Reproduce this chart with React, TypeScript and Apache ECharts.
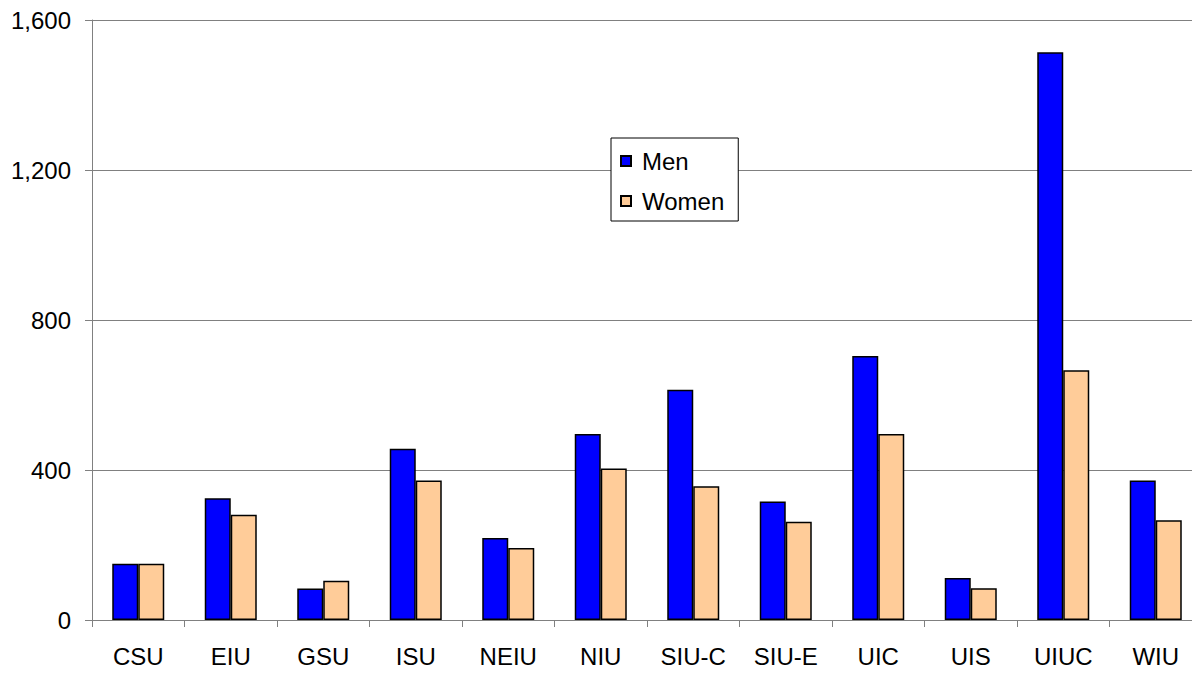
import React, { useEffect, useRef } from "react";
import * as echarts from "echarts";

const categories = ["CSU", "EIU", "GSU", "ISU", "NEIU", "NIU", "SIU-C", "SIU-E", "UIC", "UIS", "UIUC", "WIU"];
const menValues = [150, 325, 84, 457, 219, 496, 614, 316, 704, 112, 1514, 372];
const womenValues = [150, 281, 105, 372, 192, 404, 357, 262, 496, 85, 666, 266];
const yTicks = { min: 0, max: 1600, interval: 400 };

export default function App() {
  const ref = useRef<HTMLDivElement>(null);
  useEffect(() => {
    if (!ref.current) return;
    const chart = echarts.init(ref.current, null, { renderer: "svg" });
    const font = "Arial, 'Liberation Sans', sans-serif";
    chart.setOption({
      animation: false,
      backgroundColor: "#ffffff",
      grid: { left: 92, top: 20, width: 1110, height: 600, containLabel: false },
      legend: {
        orient: "vertical",
        left: 611,
        top: 138,
        padding: [11, 14, 8, 9],
        itemGap: 16,
        itemWidth: 10,
        itemHeight: 10,
        borderColor: "#000000",
        borderWidth: 1,
        backgroundColor: "#ffffff",
        icon: "rect",
        textStyle: { fontFamily: font, fontSize: 24, color: "#000000", padding: [0, 0, 0, 6] },
        data: ["Men", "Women"],
      },
      xAxis: {
        type: "category",
        data: categories,
        boundaryGap: true,
        axisLine: { lineStyle: { color: "#808080", width: 1 } },
        axisTick: { show: true, length: 7, lineStyle: { color: "#808080" } },
        axisLabel: { fontFamily: font, fontSize: 24, color: "#000000", margin: 24, interval: 0 },
        splitLine: { show: false },
      },
      yAxis: {
        type: "value",
        min: yTicks.min,
        max: yTicks.max,
        interval: yTicks.interval,
        axisLine: { show: true, lineStyle: { color: "#808080", width: 1 } },
        axisTick: { show: true, length: 7, lineStyle: { color: "#808080" } },
        axisLabel: {
          fontFamily: font,
          fontSize: 24,
          color: "#000000",
          margin: 21,
          formatter: (v: number) => v.toLocaleString("en-US"),
        },
        splitLine: { show: true, lineStyle: { color: "#808080", width: 1 } },
      },
      series: [
        {
          name: "Men",
          type: "bar",
          data: menValues,
          barWidth: 26,
          barGap: "0%",
          itemStyle: { color: "#0000FF", borderColor: "#000000", borderWidth: 1.5 },
        },
        {
          name: "Women",
          type: "bar",
          data: womenValues,
          barWidth: 26,
          barGap: "0%",
          itemStyle: { color: "#FFCC99", borderColor: "#000000", borderWidth: 1.5 },
        },
      ],
    });
    return () => chart.dispose();
  }, []);
  return (
    <div style={{ position: "fixed", left: 0, top: 0, width: 1192, height: 673, overflow: "hidden", background: "#fff" }}>
      <div ref={ref} style={{ width: 1212, height: 673 }} />
    </div>
  );
}
